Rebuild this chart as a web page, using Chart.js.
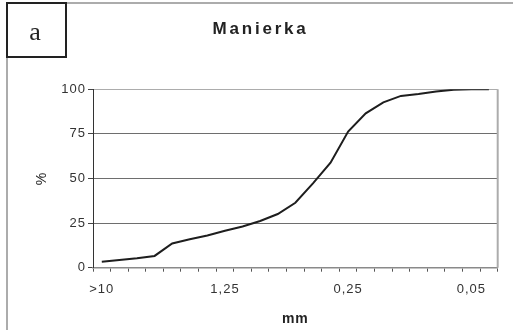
<!DOCTYPE html>
<html>
<head>
<meta charset="utf-8">
<script src="https://cdn.jsdelivr.net/npm/chart.js@4.4.1/dist/chart.umd.min.js"></script>
<style>
  html, body { margin: 0; padding: 0; background: #fff; }
  #wrap { width: 513px; height: 330px; position: relative; }
</style>
</head>
<body>
<div id="wrap"><canvas id="c" width="513" height="330"></canvas></div>
<script>
// Sieve sizes (mm), coarse to fine
const sieveSizes = ['>10', '10', '8', '5', '4', '2,5', '1,6', '1,25', '1', '0,8', '0,63', '0,5',
  '0,4', '0,315', '0,25', '0,2', '0,16', '0,125', '0,1', '0,08', '0,063', '0,05', '<0,05'];
// Cumulative passing (%)
const passing = [3.4, 4.3, 5.3, 6.6, 13.6, 15.9, 18.1, 20.7, 23.1, 26.2, 30.1, 36.4,
  47.3, 58.9, 76.3, 86.5, 92.7, 96.3, 97.4, 98.8, 99.8, 100, 100];
// Sizes shown under the axis
const shownSizes = ['>10', '1,25', '0,25', '0,05'];
const yTicks = [0, 25, 50, 75, 100];

const chartTitle = 'Manierka';
const panelLetter = 'a';

const decor = {
  id: 'decor',
  beforeDraw(chart) {
    const ctx = chart.ctx;
    ctx.save();
    ctx.fillStyle = '#fff';
    ctx.fillRect(0, 0, chart.width, chart.height);
    // outer frame (left and top edges)
    ctx.strokeStyle = '#acacac';
    ctx.lineWidth = 2;
    ctx.beginPath();
    ctx.moveTo(7, 330);
    ctx.lineTo(7, 3);
    ctx.lineTo(513, 3);
    ctx.stroke();
    ctx.restore();
    ctx.letterSpacing = '1px';
  },
  afterDraw(chart) {
    const ctx = chart.ctx;
    const a = chart.chartArea;
    ctx.save();
    // plot area right edge
    ctx.strokeStyle = '#acacac';
    ctx.lineWidth = 2;
    ctx.beginPath();
    ctx.moveTo(a.right, a.top);
    ctx.lineTo(a.right, a.bottom);
    ctx.stroke();
    // panel letter box
    ctx.fillStyle = '#fff';
    ctx.fillRect(7, 3, 59, 54);
    ctx.strokeStyle = '#222';
    ctx.lineWidth = 2;
    ctx.strokeRect(7, 3, 59, 54);
    ctx.letterSpacing = '0px';
    ctx.fillStyle = '#222';
    ctx.font = '26px "Liberation Serif"';
    ctx.textAlign = 'center';
    ctx.textBaseline = 'alphabetic';
    ctx.fillText(panelLetter, 35, 39.5);
    // chart title
    ctx.letterSpacing = '2.8px';
    ctx.font = 'bold 17px "Liberation Sans"';
    ctx.textAlign = 'left';
    ctx.fillStyle = '#222';
    ctx.fillText(chartTitle, 212.5, 34);
    ctx.restore();
  }
};

new Chart(document.getElementById('c'), {
  type: 'line',
  data: {
    labels: sieveSizes,
    datasets: [{
      data: passing,
      borderColor: '#1e1e1e',
      borderWidth: 2,
      pointRadius: 0,
      tension: 0,
      fill: false
    }]
  },
  options: {
    responsive: false,
    animation: false,
    devicePixelRatio: 1,
    layout: { padding: { left: 0, right: 15.3, top: 89.3, bottom: 2.5 } },
    plugins: { legend: { display: false }, tooltip: { enabled: false }, title: { display: false } },
    scales: {
      x: {
        type: 'category',
        offset: true,
        grid: { offset: true, drawOnChartArea: false, tickLength: 4, tickColor: '#555', color: '#555' },
        border: { color: '#8a8a8a', width: 1.5 },
        ticks: {
          autoSkip: false,
          maxRotation: 0,
          minRotation: 0,
          padding: 10,
          color: '#333',
          font: { family: '"Liberation Sans"', size: 13 },
          callback(v, i) {
            const s = sieveSizes[i];
            return shownSizes.includes(s) ? s : '';
          }
        },
        title: {
          display: true,
          text: 'mm',
          color: '#222',
          font: { family: '"Liberation Sans"', size: 14, weight: 'bold' },
          padding: { top: 0, bottom: 0 }
        },
        afterFit(scale) { scale.height = 330 - 2.5 - 267.7; }
      },
      y: {
        min: 0,
        max: 100,
        afterBuildTicks(scale) { scale.ticks = yTicks.map(v => ({ value: v })); },
        grid: {
          color: (c) => c.tick && c.tick.value === 100 ? '#acacac' : '#6e6e6e',
          tickColor: '#444',
          tickLength: 5,
          lineWidth: 1
        },
        border: { color: '#333', width: 1 },
        ticks: {
          padding: 2,
          color: '#333',
          font: { family: '"Liberation Sans"', size: 13 }
        },
        title: {
          display: true,
          text: '%',
          color: '#222',
          font: { family: '"Liberation Sans"', size: 14 },
          padding: { top: 33.8, bottom: 0 }
        },
        afterFit(scale) { scale.width = 93; }
      }
    }
  },
  plugins: [decor]
});
</script>
</body>
</html>
